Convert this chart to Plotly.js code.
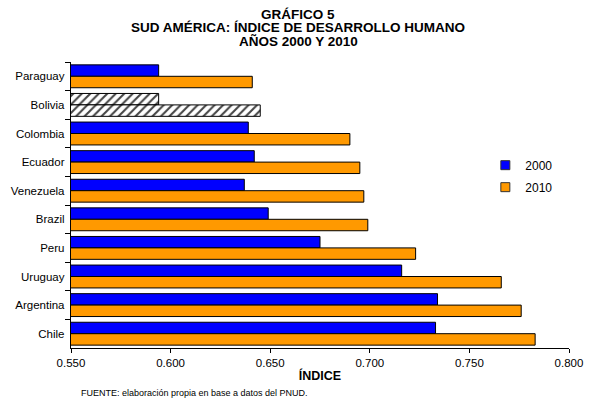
<!DOCTYPE html>
<html>
<head>
<meta charset="utf-8">
<script src="https://cdn.plot.ly/plotly-3.0.1.min.js"></script>
<style>html,body{margin:0;padding:0;background:#fff;}#chart{width:594px;height:400px;}</style>
</head>
<body>
<div id="chart"></div>
<script>
var countries = ['Paraguay','Bolivia','Colombia','Ecuador','Venezuela','Brazil','Peru','Uruguay','Argentina','Chile'];
var idh2000 = [0.594, 0.594, 0.639, 0.642, 0.637, 0.649, 0.675, 0.716, 0.734, 0.733];
var idh2010 = [0.641, 0.645, 0.690, 0.695, 0.697, 0.699, 0.723, 0.766, 0.776, 0.783];
var hatched = ['Bolivia'];
var xTicks = [0.55, 0.60, 0.65, 0.70, 0.75, 0.80];
var titleLines = ['GRÁFICO 5', 'SUD AMÉRICA: ÍNDICE DE DESARROLLO HUMANO', 'AÑOS 2000 Y 2010'];

function colors(base){ return countries.map(function(c){ return hatched.indexOf(c) >= 0 ? '#ffffff' : base; }); }
var shapes = countries.map(function(c){ return hatched.indexOf(c) >= 0 ? '/' : ''; });

var font = 'Liberation Sans, Arial, sans-serif';
function barTrace(name, vals, base){
  return {type:'bar', orientation:'h', name:name, y:countries, x:vals, showlegend:false,
   marker:{color:colors(base), line:{color:'#000', width:1},
           pattern:{shape:shapes, fgcolor:'#7f7f7f', bgcolor:'#ffffff', fillmode:'overlay', size:6, solidity:0.35, fgopacity:1}}};
}
function legendTrace(name, base){
  return {type:'scatter', mode:'markers', name:name, x:[null], y:[null], showlegend:true, legendgroup:name,
          marker:{symbol:'square', size:9, color:base, line:{color:'#333', width:1}}};
}
var traces = [barTrace('2000', idh2000, '#0000ff'), barTrace('2010', idh2010, '#ff9900'),
              legendTrace('2000', '#0000ff'), legendTrace('2010', '#ff9900')];

var annotations = titleLines.map(function(t, i){
  return {text:'<b>'+t+'</b>', xref:'paper', yref:'paper', x:0.456, y:1.1678 - i*0.0472,
          xanchor:'center', yanchor:'middle', showarrow:false, font:{size:13.5}};
});
annotations.push({text:'FUENTE: elaboración propia en base a datos del PNUD.', xref:'paper', yref:'paper',
                x:0.016, y:-0.134, xanchor:'left', yanchor:'top', showarrow:false, font:{size:9}});

var layout = {
  width:594, height:400,
  margin:{l:71, r:25, t:62, b:52},
  paper_bgcolor:'#fff', plot_bgcolor:'#fff',
  font:{family:font, size:11.5, color:'#000'},
  barmode:'group', bargap:0.2, bargroupgap:0,
  xaxis:{range:[0.55,0.80], tickvals:xTicks, tickformat:'.3f', showgrid:false, zeroline:false,
         showline:true, linecolor:'#000', linewidth:1, ticks:'outside', ticklen:4, tickcolor:'#000',
         tickfont:{size:11.5}, title:{text:'<b>ÍNDICE</b>', font:{size:12.5}, standoff:3}},
  yaxis:{autorange:'reversed', showgrid:false, zeroline:false, showline:true, linecolor:'#000', linewidth:1,
         ticks:'outside', ticklen:5, tickcolor:'#000', tickson:'boundaries', tickfont:{size:11.5}, ticksuffix:' '},
  legend:{x:0.832, y:0.69, xanchor:'left', yanchor:'top', font:{size:12}, bgcolor:'rgba(0,0,0,0)',
          itemwidth:30, tracegroupgap:3},
  showlegend:true,
  annotations:annotations
};
Plotly.newPlot('chart', traces, layout, {displayModeBar:false, staticPlot:true});
</script>
</body>
</html>
